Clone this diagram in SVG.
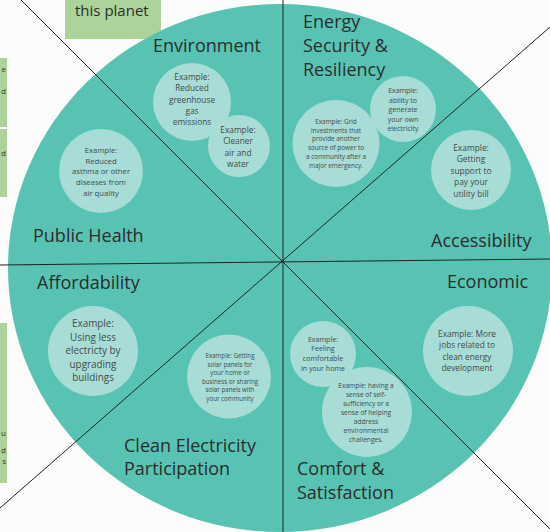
<svg xmlns="http://www.w3.org/2000/svg" width="550" height="532" viewBox="0 0 550 532">
<style>
.lbl{font-family:"Open Sans","Liberation Sans",sans-serif;font-size:18px;fill:#2b2d2d}
.ex{font-family:"Open Sans","Liberation Sans",sans-serif;fill:#454b4b;text-anchor:middle}
.bub{fill:#a7dcd7}
.note{fill:#acd49a}
.ln{stroke:#1f2222;stroke-width:1;fill:none}
.nt{font-family:"Open Sans","Liberation Sans",sans-serif;fill:#333;font-size:8px;text-anchor:end}
</style>
<rect width="550" height="532" fill="#fcfcfc"/>
<g id="notes">
<rect class="note" x="65" y="0" width="96" height="39"/>
<text x="75" y="16" font-family="Open Sans, Liberation Sans, sans-serif" font-size="15" fill="#2b2d2d">this planet</text>
<rect class="note" x="0" y="58" width="7" height="69"/>
<text class="nt" x="6" y="72">e</text>
<text class="nt" x="6" y="94">d</text>
<rect class="note" x="0" y="129" width="7" height="68"/>
<text class="nt" x="6" y="156">d</text>
<rect class="note" x="0" y="323" width="7" height="160"/>
<text class="nt" x="6" y="436">u</text>
<text class="nt" x="6" y="453">d</text>
<text class="nt" x="6" y="464">s</text>
</g>
<ellipse id="wheel" cx="280" cy="268" rx="272" ry="264" fill="#59c3b3"/>
<g id="environment">
<text class="lbl" x="153" y="52">Environment</text>
<circle class="bub" cx="192" cy="102" r="39"/>
<text class="ex" font-size="8.3"><tspan x="192" y="80">Example:</tspan><tspan x="192" y="91.3">Reduced</tspan><tspan x="192" y="102.6">greenhouse</tspan><tspan x="192" y="113.9">gas</tspan><tspan x="192" y="125.2">emissions</tspan></text>
<circle class="bub" cx="239" cy="146" r="31"/>
<text class="ex" font-size="8.3"><tspan x="238" y="133">Example:</tspan><tspan x="238" y="144.3">Cleaner</tspan><tspan x="238" y="155.6">air and</tspan><tspan x="238" y="166.9">water</tspan></text>
</g>
<g id="energy-security">
<text class="lbl"><tspan x="303" y="28">Energy</tspan><tspan x="303" y="52">Security &amp;</tspan><tspan x="303" y="76">Resiliency</tspan></text>
<circle class="bub" cx="336" cy="143.5" r="43.5"/>
<text class="ex" font-size="6.4"><tspan x="336" y="124">Example: Grid</tspan><tspan x="336" y="132.7">investments that</tspan><tspan x="336" y="141.4">provide another</tspan><tspan x="336" y="150.1">source of power to</tspan><tspan x="336" y="158.8">a community after a</tspan><tspan x="336" y="167.5">major emergency.</tspan></text>
<circle class="bub" cx="403" cy="109" r="33"/>
<text class="ex" font-size="7"><tspan x="403" y="93.3">Example:</tspan><tspan x="403" y="102.8">ability to</tspan><tspan x="403" y="112.3">generate</tspan><tspan x="403" y="121.8">your own</tspan><tspan x="403" y="131.3">electricity</tspan></text>
</g>
<g id="accessibility">
<text class="lbl" x="431" y="247">Accessibility</text>
<circle class="bub" cx="471" cy="170" r="40"/>
<text class="ex" font-size="8.4"><tspan x="471" y="150.5">Example:</tspan><tspan x="471" y="162">Getting</tspan><tspan x="471" y="173.5">support to</tspan><tspan x="471" y="185">pay your</tspan><tspan x="471" y="196.5">utility  bill</tspan></text>
</g>
<g id="public-health">
<text class="lbl" x="33" y="242">Public Health</text>
<circle class="bub" cx="101" cy="171" r="42"/>
<text class="ex" font-size="7.7"><tspan x="101" y="153">Example:</tspan><tspan x="101" y="163.7">Reduced</tspan><tspan x="101" y="174.4">asthma or other</tspan><tspan x="101" y="185.1">diseases from</tspan><tspan x="101" y="195.8">air quality</tspan></text>
</g>
<g id="affordability">
<text class="lbl" x="37" y="289">Affordability</text>
<circle class="bub" cx="93" cy="351" r="45"/>
<text class="ex" font-size="9.9"><tspan x="93" y="327">Example:</tspan><tspan x="93" y="340.5">Using less</tspan><tspan x="93" y="354">electricty by</tspan><tspan x="93" y="367.5">upgrading</tspan><tspan x="93" y="381">buildings</tspan></text>
</g>
<g id="economic">
<text class="lbl" x="447" y="288">Economic</text>
<circle class="bub" cx="468" cy="351" r="45"/>
<text class="ex" font-size="8.3"><tspan x="467" y="337">Example: More</tspan><tspan x="467" y="348.3">jobs related to</tspan><tspan x="467" y="359.6">clean energy</tspan><tspan x="467" y="370.9">development</tspan></text>
</g>
<g id="clean-electricity">
<text class="lbl"><tspan x="124" y="452">Clean Electricity</tspan><tspan x="124" y="475">Participation</tspan></text>
<circle class="bub" cx="229" cy="376.5" r="42"/>
<text class="ex" font-size="6.2"><tspan x="230" y="358">Example: Getting</tspan><tspan x="230" y="366.5">solar panels for</tspan><tspan x="230" y="375">your home or</tspan><tspan x="230" y="383.5">business or sharing</tspan><tspan x="230" y="392">solar panels with</tspan><tspan x="230" y="400.5">your community</tspan></text>
</g>
<g id="comfort">
<text class="lbl"><tspan x="297" y="475">Comfort &amp;</tspan><tspan x="297" y="499">Satisfaction</tspan></text>
<circle class="bub" cx="323" cy="354" r="33"/>
<circle class="bub" cx="367" cy="412" r="45"/>
<text class="ex" font-size="7.1"><tspan x="323" y="341.6">Example:</tspan><tspan x="323" y="351.3">Feeling</tspan><tspan x="323" y="361">comfortable</tspan><tspan x="323" y="370.7">in your home</tspan></text>
<text class="ex" font-size="6.6"><tspan x="366" y="387.5">Example: having a</tspan><tspan x="366" y="396.5">sense of self-</tspan><tspan x="366" y="405.5">sufficiency or a</tspan><tspan x="366" y="414.5">sense of helping</tspan><tspan x="366" y="423.5">address</tspan><tspan x="366" y="432.5">environmental</tspan><tspan x="366" y="441.5">challenges.</tspan></text>
</g>
<g id="connectors">
<line class="ln" x1="283" y1="0" x2="283" y2="532"/>
<line class="ln" x1="0" y1="265" x2="550" y2="259" stroke-width="1.5"/>
<line class="ln" x1="21" y1="0" x2="550" y2="529"/>
<line class="ln" x1="0" y1="508" x2="550" y2="27"/>
</g>
</svg>
